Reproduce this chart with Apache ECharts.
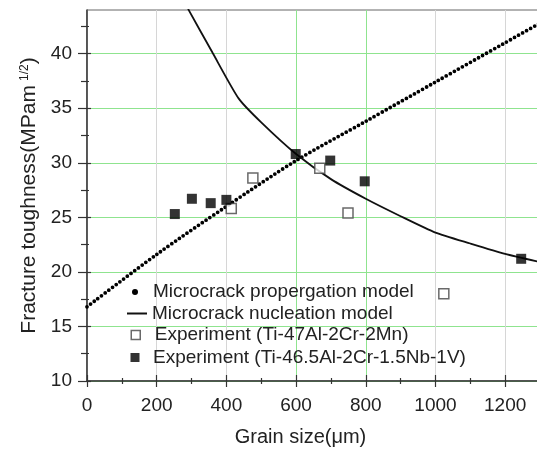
<!DOCTYPE html>
<html>
<head>
<meta charset="utf-8">
<script src="https://cdn.jsdelivr.net/npm/echarts@6/dist/echarts.min.js"></script>
<style>
  html, body { margin: 0; padding: 0; background: #fff; }
  #main { width: 537px; height: 449px; }
</style>
</head>
<body>
<div id="main"></div>
<script>
// data
const propX = [0, 200, 400, 600, 800, 1000, 1200, 1300];
const propY = [16.8, 21.6, 26.0, 30.2, 33.8, 37.4, 41.0, 42.8];

const nuclX = [290, 360, 435, 500, 600, 700, 800, 900, 1000, 1100, 1200, 1300];
const nuclY = [44.1, 40.1, 35.9, 33.7, 30.8, 28.5, 26.7, 25.1, 23.6, 22.6, 21.65, 20.9];

const mnX = [414, 476, 668, 749, 1024];
const mnY = [25.8, 28.6, 29.5, 25.4, 18.0];

const nbX = [252, 301, 355, 400, 599, 698, 797, 1246];
const nbY = [25.3, 26.7, 26.3, 26.6, 30.8, 30.2, 28.3, 21.2];

const yTicks = [10, 15, 20, 25, 30, 35, 40];

const names = [
  'Microcrack propergation model',
  'Microcrack nucleation model',
  'Experiment (Ti-47Al-2Cr-2Mn)',
  'Experiment (Ti-46.5Al-2Cr-1.5Nb-1V)'
];

const pairs = (xs, ys) => xs.map((x, i) => [x, ys[i]]);

const FONT = 'Liberation Sans';
const GREEN = '#8fe48f';
const GREY = '#d6d6d6';
const squarePath = 'path://M0,0H10V10H0Z';

const myChart = echarts.init(document.getElementById('main'));

// one legend per row so each icon/text sits where it does in the figure
function legendRow(name, top, left, w, h, icon, extra) {
  return Object.assign({
    data: [{ name: name, icon: icon }],
    orient: 'vertical',
    top: top,
    left: left,
    padding: 0,
    itemWidth: w,
    itemHeight: h,
    selectedMode: false,
    textStyle: { fontFamily: FONT, fontSize: 19, color: '#222' }
  }, extra || {});
}

const option = {
  animation: false,
  backgroundColor: '#fff',
  grid: {
    left: 87, right: -3, top: 10, bottom: 68,
    outerBoundsMode: 'none',
    show: true, borderColor: '#666', borderWidth: 1
  },
  legend: [
    legendRow(names[0], 282.5, 132, 26, 6, 'circle'),
    legendRow(names[1], 304, 127, 20, 2, 'rect'),
    legendRow(names[2], 325.5, 130.5, 28, 9, squarePath, { itemStyle: { borderWidth: 1.5 } }),
    legendRow(names[3], 348, 130.5, 26, 9, squarePath)
  ],
  xAxis: [
    {
      type: 'value', min: 0, max: 1300, interval: 200,
      name: 'Grain size(\u03bcm)',
      nameLocation: 'middle',
      nameGap: 46,
      nameMoveOverlap: false,
      nameTextStyle: { fontFamily: FONT, fontSize: 20, color: '#222', padding: [0, 26, 0, 0] },
      axisLine: { lineStyle: { color: '#333', width: 1.5 } },
      axisTick: { length: 6, lineStyle: { color: '#333', width: 1.2 } },
      minorTick: { show: true, splitNumber: 2, length: 3, lineStyle: { color: '#333', width: 1.2 } },
      axisLabel: {
        fontFamily: FONT, fontSize: 19, color: '#222', margin: 15, showMaxLabel: false,
        formatter: v => String(v)
      },
      splitLine: {
        show: true, showMinLine: true, showMaxLine: true,
        lineStyle: { width: 1, color: [GREY, GREY, GREY, GREEN, GREEN, GREY, GREY, GREY] }
      }
    },
    {
      type: 'value', min: 0, max: 1300, interval: 200, position: 'bottom',
      axisLine: { show: false },
      axisTick: { inside: true, length: 6, lineStyle: { color: '#333', width: 1.2 } },
      minorTick: { show: true, splitNumber: 2, length: 3, lineStyle: { color: '#333', width: 1.2 } },
      axisLabel: { show: false },
      splitLine: { show: false }
    }
  ],
  yAxis: [
    {
      type: 'value', min: 10, max: 44, interval: 5,
      name: 'Fracture toughness(MPam{sup|1/2})',
      nameLocation: 'middle',
      nameGap: 47,
      nameTextStyle: {
        fontFamily: FONT, fontSize: 21, color: '#222',
        rich: { sup: { fontFamily: FONT, fontSize: 12, color: '#222', verticalAlign: 'top', padding: [0, 0, 0, 4] } }
      },
      axisLine: { lineStyle: { color: '#333', width: 1.5 } },
      axisTick: { length: 9, customValues: yTicks, lineStyle: { color: '#333', width: 1.2 } },
      minorTick: { show: true, splitNumber: 2, length: 6, lineStyle: { color: '#333', width: 1.2 } },
      axisLabel: { fontFamily: FONT, fontSize: 19, color: '#222', margin: 15, showMaxLabel: false },
      splitLine: { show: true, lineStyle: { width: 1, color: GREEN } }
    },
    {
      type: 'value', min: 10, max: 44, interval: 5, position: 'left', offset: 0,
      axisLine: { show: false },
      axisTick: { inside: true, length: 4, customValues: yTicks, lineStyle: { color: '#333', width: 1.2 } },
      minorTick: { show: true, splitNumber: 2, length: 2, lineStyle: { color: '#333', width: 1.2 } },
      axisLabel: { show: false },
      splitLine: { show: false }
    }
  ],
  series: [
    {
      name: names[0],
      type: 'line',
      data: pairs(propX, propY),
      symbol: 'none',
      smooth: 0.3,
      color: '#000',
      lineStyle: { color: '#000', width: 3.8, type: [0, 4.6], cap: 'round' },
      z: 3
    },
    {
      name: names[1],
      type: 'line',
      data: pairs(nuclX, nuclY),
      symbol: 'none',
      smooth: 0.2,
      color: '#111',
      lineStyle: { color: '#111', width: 1.8 },
      z: 3
    },
    {
      name: names[2],
      type: 'scatter',
      data: pairs(mnX, mnY),
      symbol: 'rect',
      symbolSize: 10,
      itemStyle: { color: '#fff', borderColor: '#444', borderWidth: 1.5 },
      z: 5
    },
    {
      name: names[3],
      type: 'scatter',
      data: pairs(nbX, nbY),
      symbol: 'rect',
      symbolSize: 10,
      itemStyle: { color: '#000' },
      z: 6
    }
  ]
};

myChart.setOption(option);
</script>
</body>
</html>
